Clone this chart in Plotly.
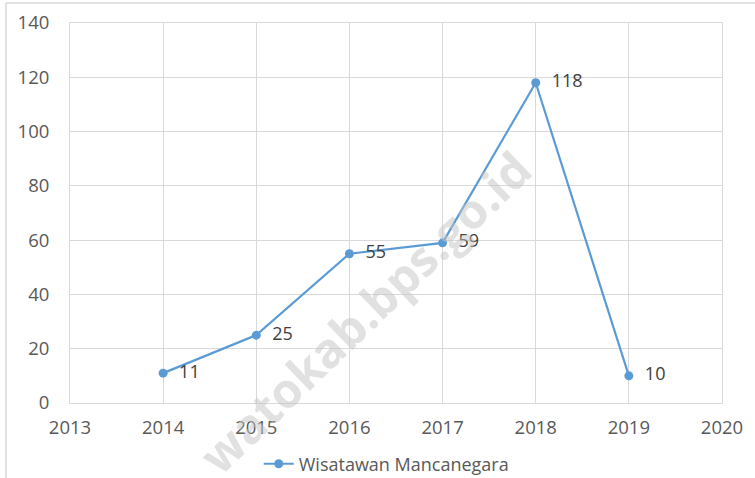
import plotly.graph_objects as go

years = [2014, 2015, 2016, 2017, 2018, 2019]
visitors = [11, 25, 55, 59, 118, 10]
x_ticks = [2013, 2014, 2015, 2016, 2017, 2018, 2019, 2020]
y_ticks = [0, 20, 40, 60, 80, 100, 120, 140]
series_name = "Wisatawan Mancanegara"
watermark = "watokab.bps.go.id"

FONT = "Open Sans"
TXT = "#595959"

fig = go.Figure()
fig.add_trace(go.Scatter(
    x=years, y=visitors, mode="lines+markers+text", name=series_name,
    line=dict(color="#5B9BD5", width=2.2),
    marker=dict(color="#5B9BD5", size=9),
    text=[f"  {v}" for v in visitors], textposition="middle right",
    textfont=dict(family=FONT, size=18, color="#404040"),
))

W, H = 755, 478
L, R, T, B = 70, 33, 23, 75
pw, ph = W - L - R, H - T - B

fig.update_layout(
    width=W, height=H,
    margin=dict(l=L, r=R, t=T, b=B, autoexpand=False),
    paper_bgcolor="white", plot_bgcolor="white",
    font=dict(family=FONT, size=18, color=TXT),
    showlegend=True,
    legend=dict(orientation="h", x=0.485, xanchor="center", y=-0.112, yanchor="top",
                font=dict(family=FONT, size=18, color=TXT)),
    xaxis=dict(range=[2013, 2020], tickvals=x_ticks, showgrid=True,
               gridcolor="#D9D9D9", gridwidth=1.3, zeroline=False,
               showline=True, linecolor="#D9D9D9", mirror=True, automargin=False,
               ticks="", ticklabelstandoff=8, tickfont=dict(size=18.5)),
    yaxis=dict(range=[0, 140], tickvals=y_ticks, showgrid=True,
               gridcolor="#D9D9D9", gridwidth=1.3, zeroline=False,
               showline=True, linecolor="#D9D9D9", mirror=True, automargin=False,
               ticks="", ticklabelstandoff=16, tickfont=dict(size=18.5)),
)

# outer chart border (top and left)
fig.add_shape(type="line", xref="paper", yref="paper",
              x0=(6 - L) / pw, x1=(W - L) / pw, y0=1 + 20 / ph, y1=1 + 20 / ph,
              line=dict(color="#D9D9D9", width=1.5))
fig.add_shape(type="line", xref="paper", yref="paper",
              x0=(6 - L) / pw, x1=(6 - L) / pw, y0=1 + 20 / ph, y1=-B / ph,
              line=dict(color="#D9D9D9", width=1.5))

fig.add_annotation(text=f"<b>{watermark}</b>", xref="paper", yref="paper",
                   x=(364 - L) / pw, y=1 - (312 - T) / ph, showarrow=False,
                   xanchor="center", yanchor="middle",
                   textangle=-44, font=dict(family=FONT, size=48, color="rgba(195,195,195,0.5)"))

fig.write_html("out.html", config={"displayModeBar": False},
               post_script="document.body.style.margin='0';")
